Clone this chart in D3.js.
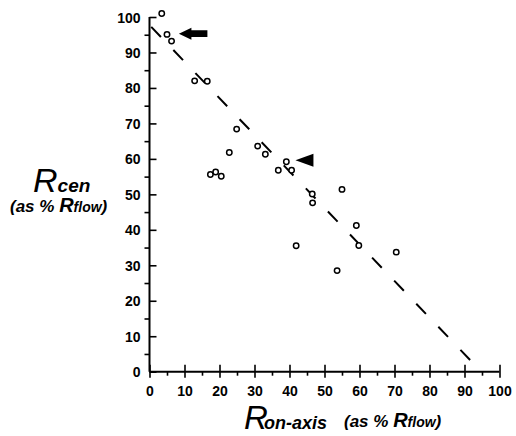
<!DOCTYPE html>
<html>
<head>
<meta charset="utf-8">
<script src="https://cdn.jsdelivr.net/npm/d3@7"></script>
<style>
  body { margin: 0; background: #fff; }
  svg { display: block; font-family: "Liberation Sans", Arial, sans-serif; }
</style>
</head>
<body>
<svg id="chart"></svg>
<script>
// data
var ronAxis = [3.5, 5.0, 6.3, 12.9, 16.5, 24.9, 22.8, 17.4, 18.9, 20.5, 30.9, 33.1,
               36.8, 39.1, 40.6, 46.5, 46.6, 55.0, 59.1, 59.8, 41.9, 53.6, 70.5];
var rCen = [101.0, 95.1, 93.2, 82.0, 81.9, 68.4, 61.8, 55.6, 56.3, 55.1, 63.6, 61.3,
            56.8, 59.2, 56.8, 50.1, 47.6, 51.4, 41.2, 35.6, 35.5, 28.5, 33.7];
var fitLine = [[0.5, 97.2], [91.6, 3.3]];
var majorTicks = [0, 10, 20, 30, 40, 50, 60, 70, 80, 90, 100];
var minorTicks = [5, 15, 25, 35, 45, 55, 65, 75, 85, 95];
var arrowAt = [8.4, 95.3];      // big arrow tip
var triangleAt = [41.7, 59.6];  // triangle tip

var width = 516, height = 436;

var svg = d3.select('#chart').attr('width', width).attr('height', height);
svg.append('rect').attr('width', width).attr('height', height).attr('fill', '#fff');

var x = d3.scaleLinear().domain([0, 100]).range([149.5, 499.5]);
var y = d3.scaleLinear().domain([0, 100]).range([371.7, 17]);

// MAJOR TICKS CROSS THE AXIS, MINOR ONES POINT OUT
var xAxis = d3.axisBottom(x).tickValues(majorTicks).tickSize(6).tickPadding(8).tickFormat(d3.format('d'));
var xMinor = d3.axisBottom(x).tickValues(minorTicks).tickSize(4).tickFormat('');
var yAxis = d3.axisLeft(y).tickValues(majorTicks).tickSize(7).tickPadding(2).tickFormat(d3.format('d'));
var yMinor = d3.axisLeft(y).tickValues(minorTicks).tickSize(5).tickFormat('');

function styleAxis(g) {
  g.select('.domain').remove();
  g.selectAll('line').attr('stroke', '#000').attr('stroke-width', 1.6);
  g.selectAll('text').attr('fill', '#000').attr('font-size', 14).attr('font-weight', 'bold');
}

var gx = svg.append('g').attr('transform', 'translate(0,' + y(0) + ')').call(xAxis).call(styleAxis);
gx.selectAll('.tick line').attr('y1', -7);
svg.append('g').attr('transform', 'translate(0,' + y(0) + ')').call(xMinor).call(styleAxis);

var gy = svg.append('g').attr('transform', 'translate(' + x(0) + ',0)').call(yAxis).call(styleAxis);
gy.selectAll('.tick line').attr('x2', 7);
gy.selectAll('.tick text').attr('dy', '0.36em');
svg.append('g').attr('transform', 'translate(' + x(0) + ',0)').call(yMinor).call(styleAxis);

// axis lines
svg.append('line')
  .attr('x1', x(0)).attr('x2', x(100)).attr('y1', y(0)).attr('y2', y(0))
  .attr('stroke', '#000').attr('stroke-width', 2);
svg.append('line')
  .attr('x1', x(0)).attr('x2', x(0)).attr('y1', y(0)).attr('y2', y(100))
  .attr('stroke', '#000').attr('stroke-width', 2);

// dashed fit, dash pattern fitted so both ends finish on a dash
var fx0 = x(fitLine[0][0]), fy0 = y(fitLine[0][1]), fx1 = x(fitLine[1][0]), fy1 = y(fitLine[1][1]);
var fitLen = Math.hypot(fx1 - fx0, fy1 - fy0);
var dash = 14, nDash = 15;
var gap = (fitLen - nDash * dash) / (nDash - 1);
svg.append('path')
  .datum(fitLine)
  .attr('d', d3.line().x(function (d) { return x(d[0]); }).y(function (d) { return y(d[1]); }))
  .attr('fill', 'none').attr('stroke', '#000').attr('stroke-width', 2)
  .attr('stroke-dasharray', dash + ',' + gap);

// points
svg.append('g').selectAll('circle')
  .data(ronAxis.map(function (v, i) { return [v, rCen[i]]; }))
  .enter().append('circle')
  .attr('cx', function (d) { return x(d[0]); })
  .attr('cy', function (d) { return y(d[1]); })
  .attr('r', 2.7)
  .attr('fill', '#fff').attr('stroke', '#000').attr('stroke-width', 1.5);

// annotations
svg.append('path')
  .attr('transform', 'translate(' + x(arrowAt[0]) + ',' + y(arrowAt[1]) + ')')
  .attr('d', 'M0,0 L12.5,-6 L12.5,-3.3 L28.5,-3.3 L28.5,3.3 L12.5,3.3 L12.5,6 Z')
  .attr('fill', '#000');
svg.append('path')
  .attr('transform', 'translate(' + x(triangleAt[0]) + ',' + y(triangleAt[1]) + ')')
  .attr('d', 'M0,0 L18,-6.5 L18,6.5 Z')
  .attr('fill', '#000');

// Y LABEL
var yl = svg.append('text').attr('x', 33).attr('y', 192).attr('fill', '#000').attr('font-style', 'italic');
yl.append('tspan').attr('font-size', 34).text('R');
yl.append('tspan').attr('font-size', 19).attr('font-weight', 'bold').text('cen');

var yl2 = svg.append('text').attr('x', 10).attr('y', 212).attr('fill', '#000')
  .attr('font-style', 'italic').attr('font-weight', 'bold');
yl2.append('tspan').attr('font-size', 17).text('(as % ');
yl2.append('tspan').attr('font-size', 20).text('R');
yl2.append('tspan').attr('font-size', 14).text('flow');
yl2.append('tspan').attr('font-size', 17).text(')');

// X LABEL
svg.append('text').attr('x', 244).attr('y', 429).attr('fill', '#000')
  .attr('font-style', 'italic').attr('font-size', 33).text('R');
svg.append('text').attr('x', 264).attr('y', 429).attr('fill', '#000')
  .attr('font-style', 'italic').attr('font-weight', 'bold').attr('font-size', 19)
  .attr('textLength', 63).attr('lengthAdjust', 'spacingAndGlyphs').text('on-axis');

var xl2 = svg.append('text').attr('x', 344).attr('y', 427).attr('fill', '#000')
  .attr('font-style', 'italic').attr('font-weight', 'bold');
xl2.append('tspan').attr('font-size', 17).text('(as % ');
xl2.append('tspan').attr('font-size', 20).text('R');
xl2.append('tspan').attr('font-size', 14).text('flow');
xl2.append('tspan').attr('font-size', 17).text(')');
</script>
</body>
</html>
